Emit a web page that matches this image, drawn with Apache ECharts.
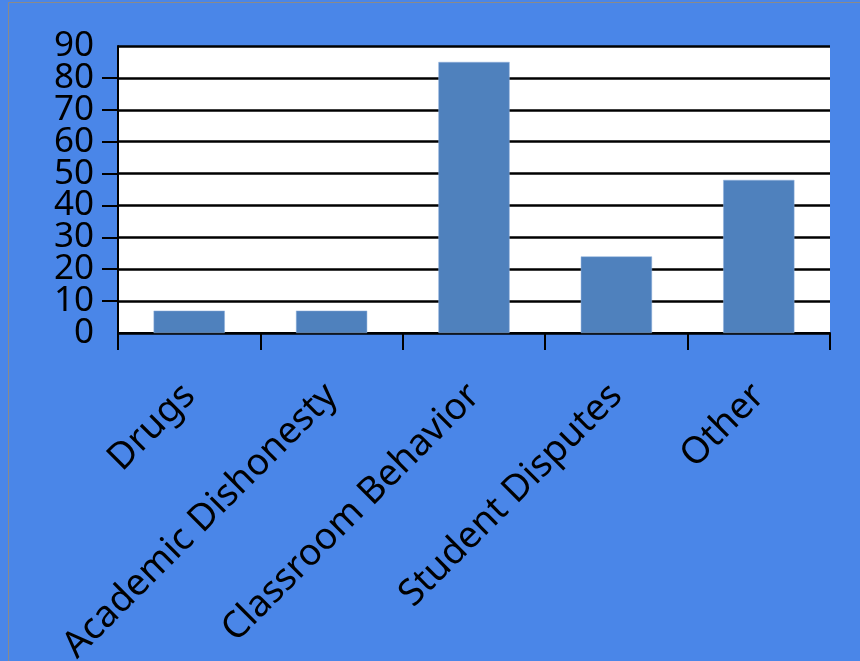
<!DOCTYPE html>
<html>
<head>
<meta charset="utf-8">
<script src="https://cdn.jsdelivr.net/npm/echarts@6/dist/echarts.min.js"></script>
<style>
html,body{margin:0;padding:0;background:#4a86e8;}
#chart{width:860px;height:661px;}
</style>
</head>
<body>
<div id="chart"></div>
<script>
var categories = ["Drugs", "Academic Dishonesty", "Classroom Behavior", "Student Disputes", "Other"];
var values = [7, 7, 85, 24, 48];
var yTicks = { min: 0, max: 90, interval: 10 };

var labelStyle = { color: '#000', fontSize: 35, fontFamily: 'Noto Sans' };

var chart = echarts.init(document.getElementById('chart'), null, { renderer: 'canvas' });
chart.setOption({
  backgroundColor: '#4a86e8',
  animation: false,
  graphic: [{
    type: 'rect',
    shape: { x: 8.5, y: 2.5, width: 900, height: 700 },
    style: { fill: null, stroke: '#8a8a8a', lineWidth: 1 },
    z: 100
  }],
  grid: {
    left: 118, right: 30, top: 46, bottom: 328,
    containLabel: false, outerBoundsMode: 'none',
    show: true, backgroundColor: '#ffffff', borderWidth: 0
  },
  xAxis: {
    type: 'category',
    data: categories,
    boundaryGap: true,
    axisLine: { show: true, lineStyle: { color: '#000', width: 2 } },
    axisTick: { show: true, alignWithLabel: false, length: 17, lineStyle: { color: '#000', width: 2 } },
    axisLabel: {
      rotate: 45, interval: 0, margin: 57, hideOverlap: false,
      color: '#000', fontSize: 37, fontFamily: 'Noto Sans'
    },
    splitLine: { show: false }
  },
  yAxis: [{
    type: 'value',
    min: yTicks.min, max: yTicks.max, interval: yTicks.interval,
    axisLine: { show: true, lineStyle: { color: '#000', width: 2 } },
    axisTick: { show: true, length: 16, lineStyle: { color: '#000', width: 2 } },
    axisLabel: Object.assign({ margin: 24, hideOverlap: false }, labelStyle),
    splitLine: { show: true, lineStyle: { color: '#000', width: 2.5 } }
  }, {
    type: 'value',
    position: 'left',
    offset: 0,
    min: yTicks.min, max: yTicks.max, interval: yTicks.max - yTicks.min,
    axisLine: { show: false },
    axisTick: { show: false },
    splitLine: { show: false },
    axisLabel: Object.assign({ margin: 24, showMinLabel: true, showMaxLabel: true, hideOverlap: false }, labelStyle)
  }],
  series: [{
    type: 'bar',
    data: values,
    yAxisIndex: 0,
    barWidth: '50%',
    itemStyle: { color: '#4f81bd', borderColor: '#8fb0dc', borderWidth: 0.5 }
  }]
});
</script>
</body>
</html>
